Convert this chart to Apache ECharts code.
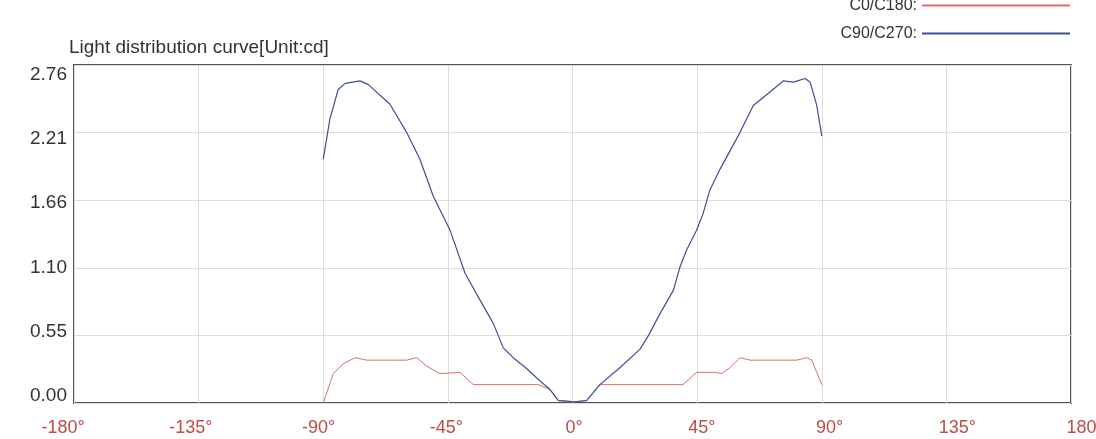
<!DOCTYPE html>
<html>
<head>
<meta charset="utf-8">
<script src="https://cdn.jsdelivr.net/npm/echarts@6/dist/echarts.min.js"></script>
<style>html,body{margin:0;padding:0;background:#fff}#c{width:1096px;height:439px}</style>
</head>
<body>
<div id="c"></div>
<script>
var xTicks = [-180, -135, -90, -45, 0, 45, 90, 135, 180];
var yTicks = [0, 0.55, 1.10, 1.66, 2.21, 2.76];
var titleText = 'Light distribution curve[Unit:cd]';
var seriesNames = ['C0/C180', 'C90/C270'];
var seriesColors = ['#de6c66', '#3f4f95'];

var blueAngles = [-90, -87.6, -84.6, -82.1, -76.7, -73.7, -65.9, -59.9, -55.1, -50.3, -44.2, -38.8, -33.4, -28.6, -25.0, -21.4, -16.5, -11.7, -8.1, -5.1, 0.9, 5.1, 9.9, 17.2, 24.4, 27.4, 31.6, 36.4, 38.8, 41.2, 44.8, 47.2, 49.6, 53.3, 60.5, 65.3, 71.3, 76.1, 79.7, 84.0, 85.8, 88.2, 90];
var blueValues = [1.99, 2.32, 2.56, 2.61, 2.63, 2.60, 2.44, 2.21, 1.99, 1.69, 1.41, 1.06, 0.84, 0.65, 0.45, 0.37, 0.28, 0.18, 0.11, 0.02, 0.01, 0.02, 0.15, 0.29, 0.44, 0.55, 0.73, 0.92, 1.11, 1.25, 1.41, 1.55, 1.74, 1.91, 2.21, 2.43, 2.54, 2.63, 2.62, 2.65, 2.62, 2.43, 2.18];

var redAngles = [-90, -86.4, -82.8, -78.5, -74.3, -59.9, -56.3, -52.6, -47.8, -40.6, -35.8, -12.3, -8.1, -5.1, 0.9, 5.1, 9.9, 39.9, 44.8, 51.5, 53.9, 56.9, 60.5, 64.1, 81.0, 84.6, 86.4, 88.2, 90];
var redValues = [0.0, 0.24, 0.32, 0.37, 0.35, 0.35, 0.37, 0.30, 0.24, 0.25, 0.15, 0.15, 0.11, 0.02, 0.01, 0.02, 0.15, 0.15, 0.25, 0.25, 0.24, 0.29, 0.37, 0.35, 0.35, 0.37, 0.35, 0.25, 0.15];

function pairs(a, b) { return a.map(function (v, i) { return [v, b[i]]; }); }

var chart = echarts.init(document.getElementById('c'));
chart.setOption({
  animation: false,
  textStyle: { fontFamily: 'Liberation Sans, Arial, sans-serif' },
  title: { text: titleText, left: 64, top: 33, textStyle: { fontSize: 19, fontWeight: 'normal', color: '#333' } },
  legend: {
    orient: 'vertical', right: 20, top: -8, align: 'right', itemWidth: 148, itemHeight: 14, itemGap: 11,
    itemStyle: { opacity: 0 },
    formatter: function (n) { return n + ':'; },
    textStyle: { fontSize: 16, color: '#333', lineHeight: 17 },
    data: seriesNames
  },
  grid: [
    { left: 74, right: 25, top: 65, bottom: 36, show: true, borderColor: '#555', borderWidth: 2, outerBoundsMode: 'none', containLabel: false },
    { left: 63, right: 11, top: 65, bottom: 36, outerBoundsMode: 'none', containLabel: false },
    { left: 74, right: 25, top: 75, bottom: 43, outerBoundsMode: 'none', containLabel: false }
  ],
  xAxis: [
    { type: 'value', gridIndex: 0, min: -180, max: 180, interval: 45,
      axisLine: { show: false }, axisTick: { show: false }, axisLabel: { show: false },
      splitLine: { show: true, lineStyle: { color: '#ddd', width: 1 } } },
    { type: 'value', gridIndex: 1, min: -180, max: 180, interval: 45,
      axisLine: { show: false }, axisTick: { show: false }, splitLine: { show: false },
      axisLabel: { color: '#c04b48', fontSize: 18, margin: 16, hideOverlap: false,
        customValues: xTicks, formatter: function (v) { return v + '°'; } } },
    { type: 'value', gridIndex: 2, min: 0, max: 1, show: false }
  ],
  yAxis: [
    { type: 'value', gridIndex: 0, min: 0, max: 2.76, interval: 0.552,
      axisLine: { show: false }, axisTick: { show: false }, axisLabel: { show: false },
      splitLine: { show: true, lineStyle: { color: '#ddd', width: 1 } } },
    { type: 'value', gridIndex: 1, min: 0, max: 1, show: false },
    { type: 'value', gridIndex: 2, min: 0, max: 2.76, interval: 0.552,
      axisLine: { show: false }, axisTick: { show: false }, splitLine: { show: false },
      axisLabel: { color: '#333', fontSize: 19, margin: 7,
        customValues: yTicks, formatter: function (v) { return v.toFixed(2); } } }
  ],
  series: [
    { name: seriesNames[0], type: 'line', xAxisIndex: 0, yAxisIndex: 0, symbol: 'none', data: pairs(redAngles, redValues),
      lineStyle: { color: seriesColors[0], width: 1 }, itemStyle: { color: seriesColors[0] } },
    { name: seriesNames[1], type: 'line', xAxisIndex: 0, yAxisIndex: 0, symbol: 'none', data: pairs(blueAngles, blueValues),
      lineStyle: { color: seriesColors[1], width: 1.2 }, itemStyle: { color: seriesColors[1] } }
  ]
});
</script>
</body>
</html>
